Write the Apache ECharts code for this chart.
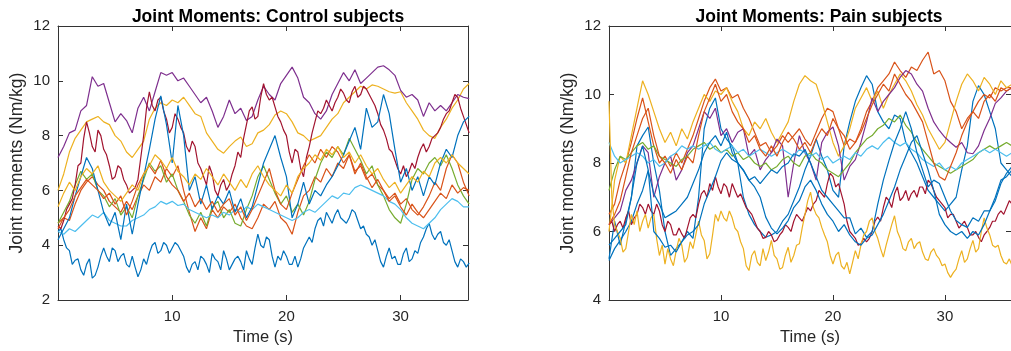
<!DOCTYPE html>
<html>
<head>
<meta charset="utf-8">
<script src="https://cdn.jsdelivr.net/npm/echarts@6/dist/echarts.min.js"></script>
<style>
  html, body { margin: 0; padding: 0; background: #ffffff; }
  #chart { width: 1011px; height: 351px; }
</style>
</head>
<body>
<div id="chart"></div>
<script>
// Sample times (s): coarse traces every 0.5 s, fine traces every 0.25 s, 0 to 36 s
const TIME = Array.from({ length: 73 }, (_, i) => i * 0.5);
const TIME_FINE = Array.from({ length: 145 }, (_, i) => i * 0.25);

const X_TICKS = [10, 20, 30];
const CONTROL_Y_TICKS = [2, 4, 6, 8, 10, 12];
const PAIN_Y_TICKS = [4, 6, 8, 10, 12];

// Control subjects: joint moments (Nm/kg)
const controlBlueLow = [4.5,4.6,4.2,3.9,3.8,3.3,3.45,3.5,3.1,2.9, 3.3,3.5,2.8,2.9,3.2,3.6,3.9,3.6,3.4,3.9, 3.8,3.4,3.6,3.7,3.3,3.2,3.6,3.2,2.85,3.1, 3.5,3.3,3.7,4.0,4.1,3.7,3.8,4.1,4.0,3.7, 3.9,4.1,4.0,3.8,3.6,3.2,3.0,3.3,3.4,3.1, 3.6,3.5,3.3,3.0,3.7,3.5,3.4,3.1,3.8,3.5, 3.1,3.3,3.5,3.6,3.4,3.1,3.8,3.5,3.3,3.9, 4.4,4.0,3.9,4.3,4.2,3.6,3.2,3.6,3.45,3.8, 3.6,3.3,3.3,3.6,3.2,3.5,3.9,4.1,4.3,4.1, 4.6,4.9,5.0,4.7,5.2,5.0,4.8,5.1,5.3,5.0, 4.9,4.8,5.0,5.3,5.2,4.9,4.6,4.7,4.4,4.3, 4.0,4.2,3.8,3.4,3.2,3.6,3.9,3.5,3.6,3.3, 3.3,3.7,3.9,3.4,3.5,3.8,3.7,4.1,4.3,4.6, 4.8,4.4,4.2,4.4,4.5,4.1,4.0,4.2,3.8,3.4, 3.2,3.5,3.4,3.2,3.35];
const controlOrangeA = [4.8,5.0,4.9,5.5,6.0,6.3,6.5,6.2,6.0,5.6, 5.4,5.2,5.6,5.3,5.8,6.2,6.0,6.5,6.3,6.8, 6.5,6.9,6.0,5.2,4.5,5.0,4.6,5.3,5.0,5.4, 5.2,5.5,5.0,4.7,4.6,5.0,5.5,5.3,5.6,5.0, 4.8,4.4,5.2,5.8,6.0,6.5,6.3,6.8,6.5,7.0, 6.8,7.3,6.7,6.9,6.4,6.6,6.2,6.0,5.7,5.9, 5.5,5.7,5.3,5.1,5.4,5.8,6.3,6.0,6.8,7.3, 7.0,6.3,5.8];
const controlYellowA = [6.0,6.6,7.4,7.9,8.2,8.5,8.6,8.7,8.5,8.4, 8.0,7.8,7.4,7.2,7.5,7.8,8.6,9.0,9.2,9.1, 9.3,9.2,9.4,9.1,8.8,8.7,8.1,7.8,7.5,7.36, 7.6,7.8,7.95,7.6,7.7,8.1,8.2,8.4,8.75,8.9, 8.8,8.5,8.1,8.0,7.8,7.9,8.0,8.3,8.6,8.8, 9.2,9.4,9.6,9.8,9.7,9.85,9.8,9.7,9.6,9.55, 9.6,9.2,8.9,8.6,8.2,8.0,7.9,8.3,8.6,9.0, 9.3,9.7,9.9];
const controlPurple = [7.2,7.6,8.1,8.2,8.9,9.1,10.15,9.8,9.9,9.2, 8.5,8.8,8.55,8.1,9.0,9.4,8.9,9.6,10.3,10.2, 10.3,10.0,10.1,9.8,9.5,9.2,9.4,8.9,8.3,8.7, 9.3,8.8,9.0,8.55,8.7,9.3,9.8,9.5,9.3,9.9, 10.2,10.5,10.1,9.4,9.2,8.8,8.6,8.9,9.5,9.9, 10.3,10.0,10.4,9.9,10.1,10.3,10.5,10.55,10.4,10.2, 9.65,9.4,9.5,9.3,8.7,9.2,8.9,9.1,8.9,9.2, 9.5,9.4,9.35];
const controlGreen = [4.8,5.2,5.6,6.2,6.7,6.4,6.6,6.0,5.8,5.4, 5.7,5.1,5.4,5.0,5.8,6.4,7.0,6.7,6.9,6.3, 6.6,6.0,5.6,5.1,4.8,5.2,4.7,5.4,5.6,5.0, 5.3,4.8,4.7,5.3,5.8,6.5,6.9,6.4,5.9,5.5, 5.8,5.2,5.5,5.1,5.6,6.4,7.0,7.4,7.2,7.6, 7.3,7.9,7.5,7.1,6.6,6.9,6.2,5.8,5.3,5.0, 4.8,5.5,6.4,6.8,6.6,7.0,7.2,6.9,7.3,6.8, 6.2,5.8,5.5];
const controlCyan = [4.5,4.4,4.6,4.5,4.7,4.9,5.1,5.0,5.2,4.9, 4.8,4.7,4.7,4.9,5.0,5.1,5.3,5.4,5.6,5.5, 5.6,5.45,5.5,5.3,5.2,5.1,5.0,5.1,5.0,5.2, 5.1,5.3,5.2,5.4,5.3,5.5,5.4,5.3,5.2,5.1, 5.0,4.9,5.0,5.2,5.3,5.2,5.4,5.6,5.8,5.7, 5.9,5.85,6.1,6.2,6.1,6.0,5.9,5.8,5.6,5.5, 5.3,5.0,4.8,4.7,4.6,4.8,5.0,5.3,5.5,5.7, 5.6,5.4,5.4];
const controlCrimson = [4.7,4.6,4.9,5.3,5.5,5.7,6.2,6.9,7.0,7.9, 8.5,8.1,7.6,7.4,8.2,8.0,7.5,7.3,6.9,6.4, 6.5,6.9,6.8,6.4,6.2,5.9,6.0,6.1,6.4,7.2, 8.0,9.0,9.6,9.1,8.9,9.3,9.4,8.9,8.6,8.1, 8.3,8.8,8.6,8.3,8.1,7.6,7.4,7.8,7.6,7.0, 6.8,6.5,6.2,6.9,6.6,6.0,5.8,6.2,6.4,6.0, 6.2,6.6,6.9,7.4,7.2,7.9,8.4,8.9,9.05,8.6, 8.7,9.4,9.9,9.5,9.3,9.4,9.05,8.7,8.5,8.2, 8.0,7.4,7.0,7.5,7.4,6.8,6.5,7.2,7.6,8.1, 8.5,8.9,8.8,9.0,9.3,9.1,8.9,9.2,9.4,9.7, 9.55,9.3,9.2,9.6,9.8,9.4,9.5,9.8,9.7,9.5, 9.3,9.1,8.8,8.4,8.2,7.9,7.5,7.4,7.1,6.8, 6.6,6.9,6.5,6.7,7.0,6.8,7.2,7.5,7.7,7.4, 7.6,7.9,8.0,8.1,8.3,8.6,8.8,8.9,9.2,9.5, 9.4,9.0,8.7,8.4,8.1];
const controlBlueMid = [4.2,4.6,5.0,5.8,6.5,7.2,6.8,6.0,5.2,4.7, 5.2,4.2,5.5,4.4,5.5,6.5,7.5,8.6,9.45,8.4, 7.0,9.1,8.0,6.0,6.5,5.5,6.2,5.3,5.8,5.5, 6.0,5.2,5.7,5.0,5.4,6.2,7.0,7.5,8.0,7.2, 6.5,5.0,5.5,6.3,5.5,6.0,5.8,6.2,6.5,6.9, 7.3,7.8,8.3,7.5,9.0,8.3,8.5,9.5,8.8,7.5, 6.3,6.8,6.0,6.5,5.8,6.5,6.2,7.0,7.5,7.2, 8.0,8.5,8.7];
const controlOrangeB = [4.6,5.0,5.3,5.8,6.1,6.4,6.2,6.0,5.7,5.9, 5.5,5.8,5.1,5.6,6.2,6.6,6.9,6.6,7.1,6.5, 6.2,6.0,5.6,5.9,5.4,5.7,5.3,5.6,5.2,5.5, 5.7,5.1,5.4,4.9,5.3,5.8,6.3,6.8,6.0,5.5, 5.3,5.9,6.4,6.9,7.3,7.0,7.5,7.2,7.6,7.4, 7.0,7.3,6.6,7.0,6.5,6.1,6.4,6.0,5.6,5.8, 5.4,5.1,5.5,5.2,5.0,5.3,5.6,5.9,5.7,6.2, 5.9,6.1,6.0];
const controlYellowB = [5.4,5.9,6.3,6.0,6.5,6.8,6.6,6.9,6.3,6.0, 5.8,5.6,5.9,6.2,6.0,6.6,6.9,7.3,7.1,6.8, 7.2,6.7,6.5,6.2,6.6,6.4,6.8,6.5,6.2,6.6, 6.3,6.0,6.4,6.1,6.6,6.9,6.5,6.2,6.0,5.8, 6.2,5.9,6.5,6.8,7.0,7.3,7.1,7.5,7.3,7.6, 7.2,7.4,7.0,7.3,6.9,6.6,6.8,6.4,6.1,6.3, 5.9,6.2,6.5,6.3,6.7,6.5,7.0,7.2,7.0,7.3, 7.0,6.8,6.6];

// Pain subjects: joint moments (Nm/kg)
const painBlueA = [5.2,6.3,5.6,6.3,7.0,8.5,8.8,9.05,8.0,7.2, 6.0,5.3,5.5,5.7,6.0,5.8,7.0,9.0,9.6,9.9, 9.0,8.7,8.5,8.0,7.0,6.5,6.2,6.0,5.83,5.9, 6.0,6.3,6.5,6.9,7.3,7.8,8.2,8.7,8.2,7.8, 7.2,7.0,8.5,9.2,9.8,10.2,10.55,10.3,9.5,9.2, 9.0,9.4,9.3,8.6,8.3,8.0,7.6,7.2,7.0,6.8, 6.6,6.8,7.0,7.8,8.5,9.8,10.26,10.0,9.5,9.0, 8.0,7.8,7.6];
const painOrangeA = [6.5,6.8,7.5,8.0,8.6,9.3,9.9,9.2,8.5,8.0, 8.2,7.9,8.3,8.0,8.4,8.8,9.3,9.8,10.2,10.45, 10.1,10.2,9.9,10.0,9.6,9.3,8.9,8.5,8.6,8.3, 8.5,8.8,8.6,8.8,9.0,8.7,8.5,8.9,9.3,9.6, 9.5,9.0,8.5,8.7,8.6,9.0,9.5,9.8,10.2,10.4, 10.6,10.95,10.7,10.5,10.8,10.7,11.0,11.24,10.6,10.7, 10.4,9.8,9.5,9.0,9.3,9.5,9.8,10.0,9.9,10.2, 10.1,10.2,10.2];
const painYellowHigh = [6.0,7.5,8.2,8.0,8.8,9.6,10.4,10.0,9.5,9.0, 8.6,8.9,8.5,9.0,8.7,9.2,9.6,10.0,9.8,10.1, 10.0,10.2,9.8,9.5,9.0,8.8,9.2,9.0,9.3,8.9, 8.6,8.9,9.2,9.8,10.3,10.55,10.4,10.3,9.8,9.2, 8.6,8.2,8.5,9.0,9.6,9.9,10.2,9.8,10.1,9.6, 10.0,10.3,10.6,10.4,10.1,9.7,9.4,9.0,8.7,8.4, 8.6,9.2,9.8,10.3,10.6,10.4,10.1,10.5,10.3,10.0, 10.4,10.2,10.3];
const painPurple = [6.2,6.4,6.6,7.2,7.5,8.0,8.5,8.3,7.0,7.6, 8.0,8.2,7.5,7.8,8.3,8.5,9.0,9.5,9.3,9.6, 8.8,9.0,8.6,8.9,9.0,8.2,8.4,7.8,8.1,8.3, 8.7,8.5,7.0,8.0,8.8,8.3,8.0,7.5,8.6,8.9, 9.05,8.5,7.5,7.9,8.1,8.6,9.2,9.9,9.5,9.8, 10.0,10.2,10.5,10.7,10.6,10.3,10.1,9.6,9.2,8.95, 8.75,8.6,8.46,8.6,8.3,8.27,8.5,8.95,9.3,9.74, 9.9,10.1,10.2];
const painGreen = [7.2,7.8,8.2,8.1,8.3,8.5,8.6,8.4,8.5,8.2, 8.1,8.0,7.9,8.1,8.2,8.4,8.5,8.6,8.4,8.5, 8.3,8.4,8.2,8.3,8.1,8.2,8.0,7.9,8.0,7.8, 7.9,8.1,8.2,8.0,7.9,8.2,8.3,8.1,8.0,7.8, 7.7,7.6,7.8,8.0,8.3,8.5,8.7,8.8,9.0,9.1, 9.3,9.2,9.4,9.1,8.9,8.6,8.4,8.2,8.0,7.9, 7.8,7.7,7.8,7.9,8.0,8.1,8.3,8.4,8.5,8.4, 8.5,8.6,8.5];
const painCyan = [8.6,8.2,8.0,8.1,8.2,8.3,8.2,8.0,8.1,7.9, 8.0,8.2,8.3,8.5,8.4,8.5,8.4,8.5,8.6,8.4, 8.3,8.4,8.5,8.3,8.4,8.2,8.3,8.4,8.3,8.2, 8.3,8.4,8.3,8.2,8.4,8.3,8.2,8.3,8.1,8.2, 8.0,8.1,8.2,8.1,8.3,8.2,8.4,8.5,8.4,8.6, 8.75,8.6,8.5,8.6,8.4,8.3,8.1,8.0,7.9,8.0, 7.8,7.9,7.8,8.0,8.1,8.2,8.3,8.4,8.3,8.4, 8.3,8.2,8.3];
const painCrimson = [6.2,6.3,6.0,6.2,6.3,6.1,6.4,6.6,6.2,6.4, 6.5,6.8,6.7,6.5,6.8,6.6,6.5,6.8,6.6,6.2, 6.0,6.3,6.2,5.9,5.9,6.1,5.93,5.8,6.1,6.4, 6.5,6.4,6.8,7.1,7.2,7.0,7.4,7.2,7.6,7.3, 7.1,7.4,7.3,7.0,7.4,7.2,7.0,7.1,6.9,6.7, 6.6,6.5,6.3,6.1,6.0,5.8,5.83,6.0,5.9,5.7, 5.75,5.9,6.0,6.2,6.12,6.0,6.3,6.5,6.4,6.3, 6.5,6.7,6.6,6.8,6.9,7.2,7.1,7.0,7.4,7.7, 7.6,7.3,7.4,7.1,6.8,6.3,6.0,5.9,5.8,5.6, 5.64,5.8,5.7,5.8,6.0,6.3,6.42,6.3,6.7,7.0, 6.9,6.7,7.1,7.3,6.9,7.0,7.2,6.9,7.1,7.2, 7.0,7.3,7.3,7.1,7.5,7.4,7.2,7.0,6.9,6.8, 6.7,6.4,6.5,6.5,6.3,6.1,6.2,6.3,6.12,5.9, 5.9,6.0,5.83,5.7,5.9,6.0,6.12,6.3,6.3,6.5, 6.6,6.5,6.7,6.9,6.8];
const painBlueB = [5.15,5.5,5.74,6.0,6.3,6.8,7.2,7.78,7.1,6.8, 6.4,6.5,6.6,6.8,7.0,7.4,7.8,8.3,8.6,8.8, 8.5,8.9,8.3,8.0,7.8,7.5,7.6,7.4,7.6,7.8, 7.7,7.9,8.0,8.27,8.2,8.4,8.0,7.6,7.2,7.0, 6.8,6.6,6.4,6.4,5.93,6.1,5.83,6.0,6.8,7.5, 8.07,8.6,9.0,9.5,9.0,8.3,7.8,7.3,7.5,7.4, 7.0,6.6,6.32,6.2,6.12,6.4,6.3,6.6,6.6,6.9, 7.4,7.7,7.9];
const painOrangeB = [6.2,6.5,6.9,7.6,8.3,8.8,9.3,9.6,8.8,8.2, 8.0,7.7,8.1,7.8,8.2,8.0,8.8,9.5,9.9,10.3, 9.8,10.0,9.5,9.2,9.0,8.6,8.8,8.4,8.2,8.5, 8.2,8.6,8.9,8.7,8.4,8.6,8.3,8.7,9.0,8.8, 9.3,9.0,8.8,8.4,8.6,8.9,9.3,9.7,10.0,10.3, 10.1,10.6,10.3,10.0,9.8,9.5,9.2,8.6,8.0,7.6, 7.5,7.9,8.3,8.8,9.2,9.5,9.3,9.8,10.0,9.8, 10.2,10.1,10.2];
const painYellowLow = [9.8,7.0,6.2,6.0,5.8,5.4,5.5,6.0,6.5,6.2, 6.6,6.0,6.3,6.5,6.1,6.4,6.5,5.8,5.3,5.6, 5.05,5.5,5.2,5.0,5.44,5.8,5.6,5.1,5.25,5.7, 5.5,5.9,6.3,5.9,5.74,5.2,5.35,5.9,6.5,6.3, 6.6,6.4,6.3,6.6,6.4,6.1,6.0,5.7,5.5,5.0, 4.86,5.3,5.44,5.1,5.0,5.5,5.15,5.4,5.74,5.3, 5.2,4.9,4.95,5.3,5.54,5.1,5.3,5.6,5.64,6.1, 6.5,6.9,7.15,6.7,6.5,6.4,6.12,5.9,5.7,5.3, 5.05,5.3,5.4,5.0,4.9,5.1,4.76,5.1,5.44,5.2, 5.6,5.9,6.0,6.3,6.4,6.0,5.8,5.5,5.25,5.6, 5.9,6.2,6.46,6.0,5.8,5.5,5.44,5.7,5.8,5.5, 5.64,5.7,5.4,5.2,5.15,5.4,5.5,5.3,5.2,5.0, 5.05,4.8,4.66,4.8,4.9,5.2,5.44,5.1,5.2,5.5, 5.74,5.4,5.5,6.0,6.4,6.1,5.9,5.6,5.54,5.6, 5.3,5.1,5.05,5.2,5.0];
const painBlueC = [5.6,5.8,6.0,6.2,7.0,8.0,8.5,7.8,6.0,5.8, 5.54,5.6,5.4,5.7,5.9,6.0,6.2,6.8,7.2,7.6, 8.07,8.3,8.1,8.0,7.78,7.5,7.3,7.0,6.42,6.1, 5.93,6.1,6.32,6.7,6.9,7.3,7.5,7.2,6.8,6.5, 6.3,6.0,6.2,5.9,5.7,5.6,5.8,5.9,6.2,6.5, 6.9,7.3,7.8,8.2,8.6,8.8,8.3,7.8,7.2,6.5, 6.2,6.0,5.9,6.0,5.8,6.0,5.9,6.2,6.6,7.0, 7.5,7.6,7.8];

// Line colours (MATLAB default colour order)
const COLORS = {
  blue: '#0072BD', orange: '#D95319', yellow: '#EDB120', purple: '#7E2F8E',
  green: '#77AC30', cyan: '#4DBEEE', crimson: '#A2142F'
};

const controlLines = [
  [controlBlueLow, 'blue'], [controlOrangeA, 'orange'], [controlYellowA, 'yellow'],
  [controlPurple, 'purple'], [controlGreen, 'green'], [controlCyan, 'cyan'],
  [controlCrimson, 'crimson'], [controlBlueMid, 'blue'], [controlOrangeB, 'orange'],
  [controlYellowB, 'yellow']
];
const painLines = [
  [painBlueA, 'blue'], [painOrangeA, 'orange'], [painYellowHigh, 'yellow'],
  [painPurple, 'purple'], [painGreen, 'green'], [painCyan, 'cyan'],
  [painCrimson, 'crimson'], [painBlueB, 'blue'], [painOrangeB, 'orange'],
  [painYellowLow, 'yellow'], [painBlueC, 'blue']
];

const FONT = "'Liberation Sans', Arial, Helvetica, sans-serif";
const AXIS_COLOR = '#333333';
const TEXT_COLOR = '#262626';
const X_MAX = 35.9;

const chart = echarts.init(document.getElementById('chart'), null, { renderer: 'canvas' });

const grids = [
  { left: 58, top: 26, width: 410, height: 274 },
  { left: 609, top: 26, width: 410, height: 274 }
];

function xAxes(gridIndex) {
  const base = {
    gridIndex, type: 'value', min: 0, max: X_MAX, interval: 10,
    splitLine: { show: false },
    axisLine: { show: true, onZero: false, lineStyle: { color: AXIS_COLOR, width: 1 } },
    axisTick: { show: true, inside: true, length: 5, lineStyle: { color: AXIS_COLOR } }
  };
  return [
    Object.assign({}, base, {
      position: 'bottom',
      name: 'Time (s)', nameLocation: 'middle', nameGap: 28,
      nameTextStyle: { fontFamily: FONT, fontSize: 16.5, color: TEXT_COLOR },
      axisLabel: {
        show: true, margin: 9, fontFamily: FONT, fontSize: 15, color: TEXT_COLOR,
        showMinLabel: false, showMaxLabel: false,
        formatter: v => (X_TICKS.indexOf(v) >= 0 ? String(v) : '')
      }
    }),
    Object.assign({}, base, { position: 'top', axisLabel: { show: false } })
  ];
}

function yAxes(gridIndex, min, max, ticks) {
  const base = {
    gridIndex, type: 'value', min, max, interval: 2,
    splitLine: { show: false },
    axisLine: { show: true, onZero: false, lineStyle: { color: AXIS_COLOR, width: 1 } },
    axisTick: { show: true, inside: true, length: 5, lineStyle: { color: AXIS_COLOR } }
  };
  return [
    Object.assign({}, base, {
      position: 'left',
      name: 'Joint moments (Nm/kg)', nameLocation: 'middle', nameGap: 32,
      nameTextStyle: { fontFamily: FONT, fontSize: 17.5, color: TEXT_COLOR },
      axisLabel: {
        show: true, margin: 8, fontFamily: FONT, fontSize: 15, color: TEXT_COLOR,
        formatter: v => (ticks.indexOf(v) >= 0 ? String(v) : '')
      }
    }),
    Object.assign({}, base, { position: 'right', axisLabel: { show: false } })
  ];
}

const xAxis = [...xAxes(0), ...xAxes(1)];
const yAxis = [...yAxes(0, 2, 12, CONTROL_Y_TICKS), ...yAxes(1, 4, 12, PAIN_Y_TICKS)];

function makeSeries(lines, axisOffset) {
  return lines.map(([values, colorKey], k) => {
    const times = values.length === TIME_FINE.length ? TIME_FINE : TIME;
    return {
      type: 'line',
      name: 'subject ' + (k + 1),
      xAxisIndex: axisOffset,
      yAxisIndex: axisOffset,
      data: times.map((t, i) => [t, values[i]]),
      showSymbol: false,
      symbol: 'none',
      smooth: false,
      clip: true,
      lineStyle: { color: COLORS[colorKey], width: 1.2 },
      emphasis: { disabled: true },
      z: 2 + k
    };
  });
}

chart.setOption({
  animation: false,
  backgroundColor: '#ffffff',
  title: [
    {
      text: 'Joint Moments: Control subjects',
      left: 263, top: 3, textAlign: 'center',
      textStyle: { fontFamily: FONT, fontSize: 17.5, fontWeight: 'bold', color: '#000000' }
    },
    {
      text: 'Joint Moments: Pain subjects',
      left: 814, top: 3, textAlign: 'center',
      textStyle: { fontFamily: FONT, fontSize: 17.5, fontWeight: 'bold', color: '#000000' }
    }
  ],
  grid: grids,
  xAxis,
  yAxis,
  series: [...makeSeries(controlLines, 0), ...makeSeries(painLines, 2)]
});
</script>
</body>
</html>
